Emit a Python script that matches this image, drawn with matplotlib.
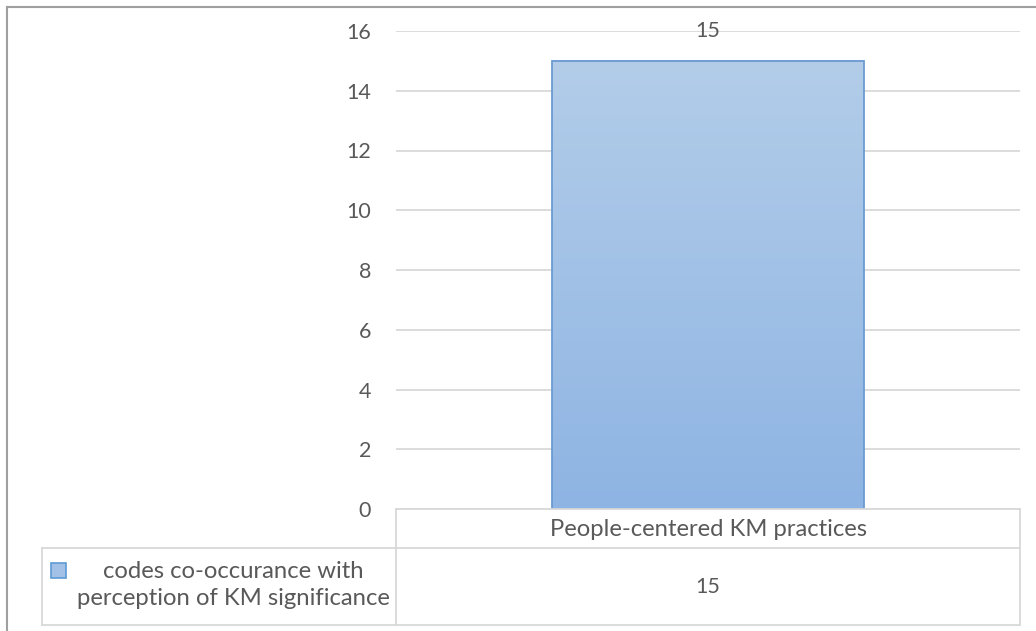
import matplotlib
matplotlib.use("Agg")
import matplotlib.pyplot as plt
import numpy as np
from matplotlib.lines import Line2D
from matplotlib.patches import Rectangle
from matplotlib.colors import LinearSegmentedColormap

categories = ["People-centered KM practices"]
values = [15]
series_name = "codes co-occurance with\nperception of KM significance"
yticks = [0, 2, 4, 6, 8, 10, 12, 14, 16]

W, H = 1036, 631
plt.rcParams['font.family'] = ['Lato', 'DejaVu Sans']
TXT = '#595959'
GRID = '#D9D9D9'
NUM_FS = 15.5
TXT_FS = 17.2

fig = plt.figure(figsize=(W / 100, H / 100), dpi=100)

def fx(px):
    return px / W

def fy(py):
    return 1 - py / H

# plot area
x0, x1, ytop, ybot = 396, 1020, 31, 509
ax = fig.add_axes([fx(x0), fy(ybot), fx(x1) - fx(x0), fy(ytop) - fy(ybot)])
ax.set_xlim(-0.5, 0.5)
ax.set_ylim(0, 16)
ax.set_yticks(yticks)
ax.set_yticklabels([str(t) for t in yticks], color=TXT, fontsize=NUM_FS)
ax.tick_params(axis='y', length=0, pad=18)
ax.set_xticks([])
for s in ax.spines.values():
    s.set_visible(False)
ax.grid(axis='y', color=GRID, linewidth=1.3)
ax.set_axisbelow(True)

# bars with vertical gradient
xs = np.arange(len(categories))
bars = ax.bar(xs, values, width=0.5, color='none', edgecolor='#6A9BD2', linewidth=1.3, zorder=3)
grad = np.linspace(0, 1, 256).reshape(-1, 1)
cmap = LinearSegmentedColormap.from_list('g', ['#8EB4E3', '#B3CDE9'])
for b, v in zip(bars, values):
    bx, by, bw, bh = b.get_x(), b.get_y(), b.get_width(), b.get_height()
    ax.imshow(grad, extent=[bx, bx + bw, by, by + bh], origin='lower', cmap=cmap,
              aspect='auto', zorder=2)
    ax.text(bx + bw / 2, bh + 1.0, f"{v}", ha='center', va='center',
            color=TXT, fontsize=NUM_FS, zorder=4, clip_on=False)
ax.set_xlim(-0.5, 0.5)
ax.set_ylim(0, 16)

# data table drawn in figure pixel coords
def hline(y, xa, xb, c=GRID, lw=1.3):
    fig.add_artist(Line2D([fx(xa), fx(xb)], [fy(y), fy(y)], color=c, lw=lw))

def vline(x, ya, yb, c=GRID, lw=1.3):
    fig.add_artist(Line2D([fx(x), fx(x)], [fy(ya), fy(yb)], color=c, lw=lw))

tleft, rmid, tbot = 42, 548, 625
hline(ybot, x0, x1)
hline(rmid, tleft, x1)
hline(tbot, tleft, x1)
vline(x0, ybot, tbot)
vline(x1, ybot, tbot)
vline(tleft, rmid, tbot)

fig.text(fx(708), fy(529), categories[0], ha='center', va='center', color=TXT, fontsize=TXT_FS)
fig.text(fx(708), fy(587), f"{values[0]}", ha='center', va='center', color=TXT, fontsize=NUM_FS)
fig.text(fx(233), fy(585), series_name, ha='center', va='center', color=TXT,
         fontsize=TXT_FS, linespacing=1.32)
fig.add_artist(Rectangle((fx(51), fy(578)), fx(15), 15 / H, facecolor='#A3C1E6',
                         edgecolor='#5B9BD5', lw=1.2))

# outer border
vline(7, 7, H, c='#A0A0A0', lw=1.5)
hline(7, 7, W, c='#A0A0A0', lw=1.5)

fig.savefig('out.png', dpi=100)
